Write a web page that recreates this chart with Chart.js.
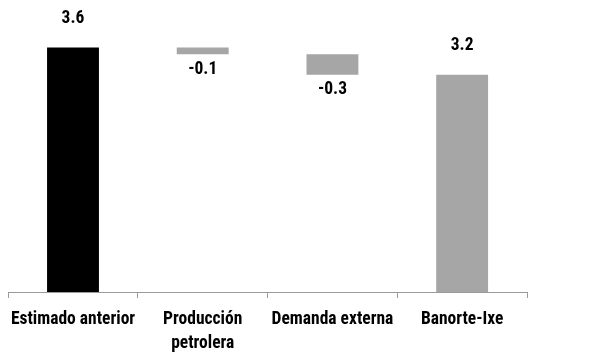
<!DOCTYPE html>
<html>
<head>
<meta charset="utf-8">
<script src="https://cdn.jsdelivr.net/npm/chart.js@4/dist/chart.umd.min.js"></script>
<style>
  html, body { margin: 0; padding: 0; background: #fff; }
  #wrap { width: 611px; height: 358px; position: relative; }
</style>
</head>
<body>
<div id="wrap"><canvas id="c"></canvas></div>
<script>
// Contribuciones al estimado del PIB (puntos porcentuales)
const categories = ['Estimado anterior', ['Producción', 'petrolera'], 'Demanda externa', 'Banorte-Ixe'];
const values = [3.6, -0.1, -0.3, 3.2];
const isTotal = [true, false, false, true];
const barColors = ['#000000', '#a6a6a6', '#a6a6a6', '#a6a6a6'];

// Floating ranges for the waterfall: totals start at zero, changes stack on the running level
const ranges = [];
let level = 0;
values.forEach((v, i) => {
  if (isTotal[i]) { ranges.push([0, v]); level = v; }
  else { ranges.push([level, level + v]); level = +(level + v).toFixed(4); }
});

const FONT = { family: '"Roboto Condensed", "Liberation Sans", Arial, sans-serif', size: 17.5, weight: 'bold', lineHeight: 1.37 };

const valueLabels = {
  id: 'valueLabels',
  afterDatasetsDraw(chart) {
    const ctx = chart.ctx;
    const meta = chart.getDatasetMeta(0);
    const y = chart.scales.y;
    ctx.save();
    ctx.font = `bold ${FONT.size}px ${FONT.family}`;
    ctx.fillStyle = '#000';
    ctx.textAlign = 'center';
    ctx.textBaseline = 'middle';
    meta.data.forEach((bar, i) => {
      const v = values[i];
      const r = ranges[i];
      let py;
      if (v >= 0) py = y.getPixelForValue(Math.max(r[0], r[1])) - 29;
      else py = y.getPixelForValue(Math.min(r[0], r[1])) + 15;
      ctx.fillText(v.toFixed(1), bar.x, py);
    });
    ctx.restore();
  }
};

new Chart(document.getElementById('c'), {
  type: 'bar',
  data: {
    labels: categories,
    datasets: [{
      data: ranges,
      backgroundColor: barColors,
      borderWidth: 0,
      categoryPercentage: 1,
      barPercentage: 0.4
    }]
  },
  options: {
    responsive: true,
    maintainAspectRatio: false,
    animation: false,
    layout: { padding: { left: 7, right: 84, top: 0, bottom: 0 } },
    plugins: { legend: { display: false }, tooltip: { enabled: false } },
    scales: {
      y: {
        display: false,
        min: 0,
        max: 4.3
      },
      x: {
        afterFit(s) { s.height = 66; },
        border: { display: true, color: '#9a9a9a', width: 1 },
        grid: {
          display: true,
          drawOnChartArea: false,
          drawTicks: true,
          tickLength: 6,
          color: '#9a9a9a',
          offset: true
        },
        ticks: {
          color: '#000',
          font: FONT,
          padding: 10,
          maxRotation: 0,
          autoSkip: false
        }
      }
    }
  },
  plugins: [valueLabels]
});
</script>
</body>
</html>
